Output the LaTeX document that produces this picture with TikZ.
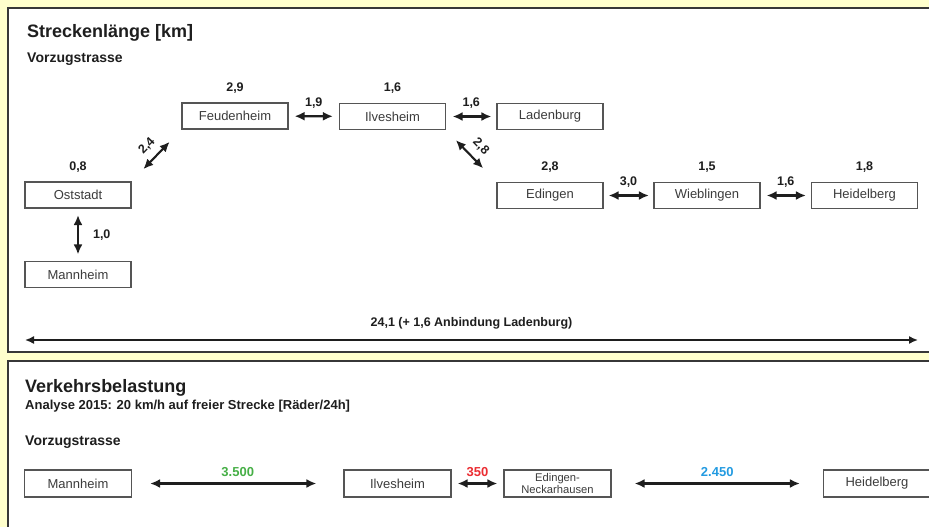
\documentclass[tikz,border=0pt]{standalone}
\usepackage{fontspec}
\setmainfont{Liberation Sans}
\usetikzlibrary{arrows.meta,positioning,calc}
\definecolor{paper}{RGB}{255,255,204}
\definecolor{frame}{RGB}{55,55,55}
\definecolor{boxtext}{RGB}{60,60,60}
\definecolor{labeltext}{RGB}{30,30,30}
\definecolor{loadgreen}{RGB}{70,175,70}
\definecolor{loadred}{RGB}{235,45,50}
\definecolor{loadblue}{RGB}{35,155,225}
\tikzstyle{panel}   = [draw=frame,line width=1.2pt,fill=white]
\tikzstyle{station} = [draw=frame!85,line width=1.2pt,minimum width=106pt,minimum height=26pt,inner sep=0pt,text=boxtext,font=\fontsize{13}{15}\selectfont]
\tikzstyle{km}      = [text=labeltext,font=\bfseries\fontsize{12.5}{14}\selectfont,inner sep=0pt]
\tikzstyle{load}    = [font=\bfseries\fontsize{13}{15}\selectfont,inner sep=0pt]
\tikzstyle{heading} = [text=labeltext,anchor=base west,inner sep=0pt]
\tikzstyle{dist}    = [line width=2.1pt,draw=labeltext,arrows={Latex[length=10pt,width=9pt]-Latex[length=10pt,width=9pt]}]
\tikzstyle{total}   = [line width=1.6pt,draw=labeltext,arrows={Latex[length=9pt,width=8pt]-Latex[length=9pt,width=8pt]}]

\begin{document}
\begin{tikzpicture}[x=1pt,y=-1pt]
  \useasboundingbox[fill=paper] (0,0) rectangle (929,527);
  \draw[panel] (8,8) rectangle (945,352);
  \draw[panel] (8,361) rectangle (945,540);

  % Streckenlaenge
  \node (title1)[heading,font=\bfseries\fontsize{18}{20}\selectfont] at (27,37.5) {Streckenlänge [km]};
  \node (sub1)[heading,font=\bfseries\fontsize{14}{16}\selectfont] at (27,63) {Vorzugstrasse};

  \node (feud)[station] at (235,116) {Feudenheim};
  \node (ilv)[station]  at (392.5,116.5) {Ilvesheim};
  \node (lad)[station]  at (550,116.5) {Ladenburg};
  \node (ost)[station]  at (78,195) {Oststadt};
  \node (mann)[station] at (78,274.5) {Mannheim};
  \node (edi)[station]  at (550,195.5) {Edingen};
  \node (wieb)[station] at (707,195.5) {Wieblingen};
  \node (heid)[station] at (864.5,195.5) {Heidelberg};

  \node (kfeud)[km,above=9pt of feud] {2,9};
  \node (kilv)[km,above=9pt of ilv]   {1,6};
  \node (kost)[km,above=9pt of ost]   {0,8};
  \node (kedi)[km,above=9pt of edi]   {2,8};
  \node (kwieb)[km,above=9pt of wieb] {1,5};
  \node (kheid)[km,above=9pt of heid] {1,8};

  \draw[dist,shorten <=6.5pt,shorten >=6.5pt] (ost) -- (mann) node[km,midway,right=14pt] {1,0};
  \draw[dist,shorten <=17pt,shorten >=17pt] (ost.north east) -- (feud.south west) node[km,midway,sloped,above=7pt] {2,4};
  \draw[dist,shorten <=6pt,shorten >=6pt] (feud) -- (ilv) node[km,midway,above=7pt] {1,9};
  \draw[dist,shorten <=6.5pt,shorten >=5pt] (ilv) -- (lad) node[km,midway,above=7pt] {1,6};
  \draw[dist,shorten <=14pt,shorten >=19pt] (ilv.south east) -- (edi.north west) node[km,midway,sloped,above=7pt] {2,8};
  \draw[dist,shorten <=5pt,shorten >=4.5pt] (edi) -- (wieb) node[km,midway,above=7pt] {3,0};
  \draw[dist,shorten <=6pt,shorten >=5pt] (wieb) -- (heid) node[km,midway,above=7pt] {1,6};

  \coordinate (lend) at (25,340);
  \coordinate (rend) at (918,340);
  \draw[total] (lend) -- (rend) node[km,midway,above=10pt] {24,1 (+ 1,6 Anbindung Ladenburg)};

  % Verkehrsbelastung
  \node (title2)[heading,font=\bfseries\fontsize{18}{20}\selectfont] at (25,392) {Verkehrsbelastung};
  \node (info2)[heading,font=\bfseries\fontsize{13}{15}\selectfont] at (25,409) {Analyse 2015: 20 km/h auf freier Strecke [Räder/24h]};
  \node (sub2)[heading,font=\bfseries\fontsize{14}{16}\selectfont] at (25,445) {Vorzugstrasse};

  \node (mann2)[station,minimum width=107pt,minimum height=27pt] at (78,483.5) {Mannheim};
  \node (ilv2)[station,minimum width=107pt,minimum height=27pt]  at (397.5,483.5) {Ilvesheim};
  \node (edn)[station,minimum width=107pt,minimum height=27pt,align=center,font=\fontsize{11.2}{11.5}\selectfont] at (557.5,483.5) {Edingen-\\Neckarhausen};
  \node (heid2)[station,minimum width=107pt,minimum height=27pt] at (877,483.5) {Heidelberg};

  \draw[dist,shorten <=18pt,shorten >=27pt] (mann2) -- (ilv2) node[load,text=loadgreen,midway,above=6pt] {3.500};
  \draw[dist,shorten <=6pt,shorten >=6pt] (ilv2) -- (edn) node[load,text=loadred,midway,above=6pt] {350};
  \draw[dist,shorten <=23pt,shorten >=23pt] (edn) -- (heid2) node[load,text=loadblue,midway,above=6pt] {2.450};
\end{tikzpicture}
\end{document}
